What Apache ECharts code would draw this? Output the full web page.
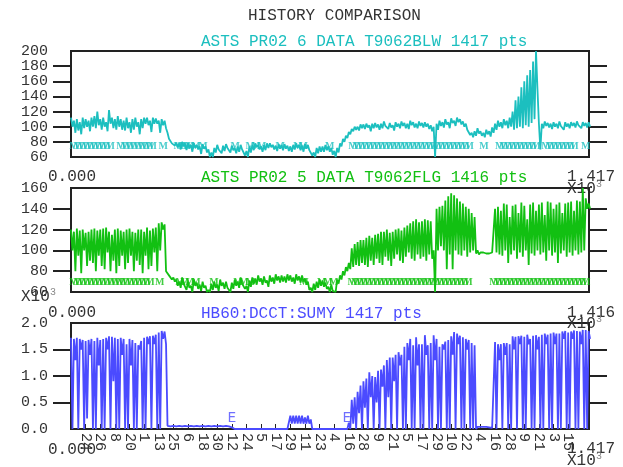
<!DOCTYPE html>
<html>
<head>
<meta charset="utf-8">
<script src="https://cdn.jsdelivr.net/npm/echarts@6.0.0/dist/echarts.min.js"></script>
<style>
  html, body { margin: 0; padding: 0; background: #fff; }
  #chart { width: 623px; height: 467px; }
</style>
</head>
<body>
<div id="chart"></div>
<script>
    // the 1417-point history, read as high/low pairs for every 8 points
    var sampleStep = 8;
    var totalPts = 1417;

    // ASTS PR02 6 DATA T9062BLW
    var blwHigh = [
        112, 108, 110, 106, 112, 110, 108, 112, 114, 120,
        110, 112, 106, 122, 112, 110, 114, 110, 108, 112,
        106, 110, 112, 106, 110, 112, 112, 108, 112, 111,
        108, 110, 108, 92, 82, 80, 79, 78, 80, 78,
        78, 76, 78, 76, 74, 77, 74, 70, 66, 72,
        76, 72, 75, 77, 74, 75, 72, 74, 76, 70,
        68, 74, 76, 78, 76, 74, 76, 78, 78, 76,
        75, 77, 76, 77, 75, 74, 76, 78, 76, 75,
        77, 76, 70, 66, 72, 74, 74, 76, 74, 72,
        68, 72, 78, 84, 88, 93, 97, 100, 100, 103,
        103, 104, 102, 104, 105, 103, 104, 107, 103, 105,
        102, 106, 104, 107, 105, 104, 108, 106, 104, 107,
        105, 106, 104, 102, 100, 104, 108, 106, 110, 106,
        111, 108, 112, 110, 107, 104, 96, 92, 94, 98,
        94, 92, 96, 94, 99, 104, 108, 106, 110, 108,
        112, 120, 135, 140, 152, 160, 168, 175, 186, 200,
        104, 104, 107, 105, 104, 106, 104, 107, 103, 106,
        104, 106, 105, 107, 104, 106, 105, 106
    ];
    var blwLow = [
        100, 92, 95, 90, 98, 100, 94, 100, 98, 102,
        96, 100, 94, 104, 98, 96, 100, 96, 95, 98,
        92, 96, 100, 90, 98, 104, 102, 93, 104, 104,
        92, 102, 98, 84, 78, 75, 73, 70, 74, 69,
        72, 67, 72, 70, 64, 71, 66, 60, 60, 66,
        70, 65, 68, 72, 66, 69, 65, 67, 70, 62,
        60, 66, 69, 73, 70, 67, 69, 72, 73, 70,
        68, 71, 69, 71, 68, 67, 70, 72, 69, 67,
        71, 69, 62, 60, 65, 67, 67, 69, 67, 63,
        60, 66, 74, 80, 85, 90, 94, 96, 95, 98,
        97, 99, 94, 98, 99, 96, 98, 101, 97, 99,
        95, 100, 98, 101, 98, 97, 102, 99, 98, 101,
        99, 100, 97, 94, 60, 96, 101, 99, 103, 98,
        105, 101, 106, 103, 100, 96, 89, 86, 88, 91,
        88, 86, 90, 87, 92, 96, 100, 98, 102, 98,
        100, 96, 98, 100, 98, 102, 100, 105, 110, 150,
        70, 98, 101, 99, 97, 100, 98, 101, 96, 100,
        98, 101, 99, 102, 98, 101, 99, 100
    ];

    // ASTS PR02 5 DATA T9062FLG
    var flgHigh = [
        120, 118, 121, 119, 120, 117, 118, 120, 121, 119,
        120, 121, 122, 118, 115, 120, 121, 119, 118, 120,
        121, 118, 117, 120, 120, 118, 122, 119, 121, 122,
        126, 127, 125, 80, 76, 74, 72, 70, 74, 68,
        70, 66, 72, 69, 67, 70, 66, 62, 68, 70,
        67, 72, 69, 70, 65, 69, 72, 70, 74, 69,
        66, 71, 74, 73, 76, 73, 75, 71, 76, 74,
        77, 75, 76, 75, 77, 76, 74, 77, 75, 76,
        73, 70, 64, 68, 70, 72, 71, 69, 65, 67,
        62, 72, 76, 80, 84, 88, 102, 106, 108, 110,
        110, 112, 114, 112, 115, 116, 118, 118, 120, 117,
        118, 120, 121, 119, 122, 124, 126, 128, 130, 127,
        128, 130, 129, 128, 100, 140, 142, 143, 148, 152,
        155, 153, 150, 147, 145, 142, 140, 136, 132, 100,
        98, 98, 97, 97, 98, 140, 142, 138, 145, 144,
        132, 143, 144, 136, 146, 143, 130, 144, 146, 138,
        144, 146, 134, 147, 146, 140, 144, 146, 136, 145,
        146, 147, 138, 148, 147, 160, 150, 145
    ];
    var flgLow = [
        100, 80, 95, 78, 100, 85, 90, 88, 80, 95,
        85, 82, 98, 80, 90, 78, 85, 95, 82, 88,
        95, 80, 90, 86, 78, 95, 82, 85, 98, 80,
        100, 120, 80, 76, 72, 70, 66, 64, 68, 62,
        64, 60, 66, 63, 61, 64, 60, 60, 62, 64,
        61, 66, 63, 64, 60, 63, 66, 64, 68, 63,
        60, 65, 68, 67, 70, 67, 69, 65, 70, 68,
        71, 69, 70, 69, 71, 70, 68, 71, 69, 70,
        67, 62, 60, 62, 64, 66, 65, 63, 60, 61,
        60, 68, 72, 76, 80, 82, 84, 86, 85, 88,
        86, 84, 90, 86, 92, 88, 86, 94, 90, 85,
        92, 96, 90, 88, 94, 98, 92, 90, 96, 92,
        94, 90, 96, 92, 60, 100, 104, 100, 82, 96,
        82, 100, 96, 95, 100, 94, 98, 100, 97, 96,
        97, 97, 96, 96, 97, 98, 96, 95, 100, 88,
        96, 100, 92, 98, 94, 100, 86, 97, 95, 100,
        96, 98, 90, 100, 95, 98, 88, 97, 100, 94,
        98, 95, 100, 96, 98, 100, 140, 140
    ];

    // HB60:DCCT:SUMY (x10^3)
    var sumyHigh = [
        1.72, 1.70, 1.72, 1.70, 1.68, 1.66, 1.68, 1.70, 1.66, 1.72,
        1.68, 1.70, 1.72, 1.75, 1.74, 1.72, 1.70, 1.72, 1.70, 1.60,
        1.70, 1.68, 1.62, 1.58, 1.66, 1.72, 1.74, 1.75, 1.76, 1.78,
        1.82, 1.85, 1.84, 0.06, 0.05, 0.06, 0.05, 0.06, 0.05, 0.06,
        0.05, 0.06, 0.05, 0.06, 0.05, 0.06, 0.05, 0.06, 0.05, 0.06,
        0.05, 0.06, 0.05, 0.06, 0.05, 0.03, 0, 0, 0, 0,
        0, 0, 0, 0, 0, 0, 0, 0, 0, 0,
        0, 0, 0, 0, 0, 0.25, 0.25, 0.25, 0.25, 0.25,
        0.22, 0.25, 0.18, 0, 0, 0, 0, 0, 0, 0,
        0, 0, 0, 0, 0, 0.12, 0.55, 0.60, 0.70, 0.82,
        0.90, 0.95, 1.07, 1.00, 0.98, 1.10, 1.12, 1.20, 1.30, 1.35,
        1.35, 1.40, 1.45, 1.40, 1.55, 1.62, 1.70, 1.58, 1.73, 1.60,
        1.60, 1.77, 1.58, 1.62, 1.77, 1.70, 1.55, 1.60, 1.65, 1.68,
        1.75, 1.83, 1.80, 1.76, 1.73, 1.70, 1.68, 1.62, 1.58, 0.04,
        0.04, 0.04, 0.04, 0.03, 0.02, 1.64, 1.60, 1.60, 1.62, 1.62,
        1.60, 1.75, 1.74, 1.75, 1.76, 1.74, 1.78, 1.70, 1.76, 1.77,
        1.74, 1.78, 1.80, 1.78, 1.80, 1.82, 1.80, 1.80, 1.84, 1.85,
        1.82, 1.84, 1.86, 1.85, 1.84, 1.87, 1.87, 1.85
    ];
    var sumyLow = [
        0, 1.3, 0, 1.5, 0, 0.2, 1.4, 0, 0, 1.2,
        0, 0, 1.5, 0, 0.9, 0, 0, 1.4, 0, 0,
        1.2, 0, 0, 1.5, 0, 0, 1.6, 0, 1.6, 0,
        0, 1.7, 1.6, 0.04, 0.04, 0.05, 0.04, 0.05, 0.04, 0.05,
        0.04, 0.05, 0.04, 0.05, 0.04, 0.05, 0.04, 0.05, 0.04, 0.05,
        0.04, 0.05, 0.04, 0.05, 0.04, 0.02, 0, 0, 0, 0,
        0, 0, 0, 0, 0, 0, 0, 0, 0, 0,
        0, 0, 0, 0, 0, 0.1, 0.1, 0.1, 0.1, 0.1,
        0.1, 0.1, 0, 0, 0, 0, 0, 0, 0, 0,
        0, 0, 0, 0, 0, 0, 0.1, 0, 0.3, 0,
        0.4, 0, 0.6, 0, 0.5, 0, 0.8, 0, 0.6, 0,
        0.9, 0, 1.2, 0, 0, 1.3, 0, 0, 1.2, 0,
        0, 1.4, 0, 0, 1.3, 0, 0, 1.5, 0, 0,
        1.4, 0, 1.6, 0, 0, 1.5, 0, 0, 0, 0.03,
        0.03, 0.03, 0.03, 0.02, 0, 0, 1.3, 0, 1.4, 0,
        0, 1.5, 0, 1.6, 0, 0, 1.6, 0, 0, 1.5,
        0, 0, 1.6, 0, 0, 1.6, 0, 0, 1.7, 0,
        0, 1.7, 0, 0, 1.6, 0, 0, 1.7
    ];

    // "M" flag positions (point index) and the row they sit on
    var blwFlags = [8, 19, 30, 41, 52, 63, 74, 85, 96, 107,
        137, 148, 159, 170, 181, 192, 202, 213, 222, 252,
        293, 304, 315, 325, 342, 361, 449, 490, 506, 522, 572, 621, 635, 708,
        771, 782, 793, 804, 815, 826, 837, 848, 859, 870, 880, 891, 902, 913, 924,
        935, 946, 957, 968, 979, 990, 1001, 1012, 1023, 1034, 1045, 1056, 1067, 1078, 1089,
        1130, 1173, 1184, 1195, 1206, 1217, 1228, 1239, 1250, 1261, 1272,
        1299, 1310, 1321, 1332, 1343, 1354, 1365, 1376, 1408];
    var blwFlagRow = 74.5;
    var flgFlags = [8, 19, 30, 41, 52, 63, 74, 85, 96, 107, 118, 129, 139, 150, 161,
        172, 183, 194, 205, 216, 243, 298, 312, 325, 342, 391, 457, 473, 490,
        637, 686, 703, 719,
        769, 779, 790, 801, 812, 823, 834, 845, 856, 867, 878, 889, 900, 911, 922,
        933, 944, 955, 965, 976, 987, 998, 1009, 1020, 1031, 1042, 1053, 1064, 1075, 1086,
        1157, 1168, 1179, 1190, 1201, 1212, 1223, 1233, 1244, 1255, 1266, 1277, 1288,
        1299, 1310, 1321, 1332, 1343, 1354, 1365, 1376, 1387, 1398, 1408];
    var flgFlagRow = 69.5;
    var sumyFlags = [[440, 0.2], [755, 0.2]];

    // bottom axis: day-of-month tick labels, one every 40 points
    var tickStep = 40;
    var dateLabels = ['22', '24', '26', '8', '20', '1', '13', '25', '6', '18', '30', '12',
        '24', '5', '17', '29', '11', '23', '4', '16', '28', '9', '21', '5',
        '17', '29', '10', '22', '4', '16', '28', '9', '21', '3', '15', '27'];

    var cyan = '#1cbfbf', green = '#12c012', blue = '#4b4bff', ink = '#333';
    var mono = '"Liberation Mono", "DejaVu Sans Mono", monospace';
    var serif = '"Liberation Serif", "DejaVu Serif", serif';

    // high at the start of each 8-point block, low half way through it
    function toPoints(high, low) {
        var pts = [];
        high.forEach(function (v, i) {
            pts.push([i * sampleStep, v]);
            pts.push([i * sampleStep + sampleStep / 2, low[i]]);
        });
        return pts;
    }
    var tickPos = dateLabels.map(function (d, i) { return i * tickStep; });

    var grids = [
        {left: 71, top: 51, width: 518, height: 106},
        {left: 71, top: 188, width: 518, height: 104},
        {left: 71, top: 323, width: 518, height: 106}
    ].map(function (g) {
        g.show = true;
        g.borderColor = '#222';
        g.borderWidth = 2;
        g.backgroundColor = 'transparent';
        g.containLabel = false;
        g.outerBoundsMode = 'none';
        return g;
    });

    function xAx(i, withLabels) {
        return {
            type: 'value', gridIndex: i, min: 0, max: totalPts,
            axisLine: {show: true, lineStyle: {color: '#222', width: 2}},
            splitLine: {show: false},
            axisTick: withLabels ? {show: true, inside: true, length: 5, customValues: tickPos,
                lineStyle: {color: '#222', width: 1}} : {show: false},
            axisLabel: withLabels ? {
                show: true, rotate: -90, margin: 4, customValues: tickPos,
                color: ink, fontFamily: mono, fontSize: 15,
                formatter: function (v) { return dateLabels[Math.round(v / tickStep)]; }
            } : {show: false}
        };
    }

    function yAx(i, pos, min, max, step, ticks, digits) {
        return {
            type: 'value', gridIndex: i, position: pos, min: min, max: max, interval: step,
            axisLine: {show: true, lineStyle: {color: '#222', width: 2}},
            splitLine: {show: false},
            axisTick: {show: true, inside: false, length: 18, customValues: ticks,
                lineStyle: {color: '#222', width: 2}},
            axisLabel: {
                show: pos === 'left', margin: 23, color: ink, fontFamily: mono, fontSize: 15,
                formatter: function (v) { return v.toFixed(digits); }
            }
        };
    }

    function lineSeries(xi, yi, pts, color) {
        return {type: 'line', xAxisIndex: xi, yAxisIndex: yi, data: pts,
            showSymbol: false, silent: true, lineStyle: {color: color, width: 1.8}};
    }

    function flagSeries(xi, yi, pts, txt, color, font, size, weight) {
        return {
            type: 'scatter', xAxisIndex: xi, yAxisIndex: yi,
            symbol: 'circle', symbolSize: 1, silent: true,
            itemStyle: {color: 'rgba(0,0,0,0)'},
            label: {show: true, position: 'inside', formatter: txt, color: color,
                fontFamily: font, fontSize: size, fontWeight: weight || 'normal'},
            data: pts
        };
    }

    function txt(s, x, y, size, color) {
        return {type: 'text', x: x, y: y, silent: true,
            style: {text: s, fill: color || ink, font: size + 'px ' + mono,
                textAlign: 'left', textVerticalAlign: 'middle'}};
    }
    function sup(x, y) {
        return txt('3', x, y, 10, '#888');
    }
    function titleStyle(color) {
        return {color: color, fontFamily: mono, fontSize: 16, fontWeight: 'normal'};
    }

    var option = {
        animation: false,
        backgroundColor: '#fff',
        title: [
            {text: 'HISTORY COMPARISON', left: 243, top: 3, textStyle: titleStyle(ink)},
            {text: 'ASTS PR02 6 DATA T9062BLW 1417 pts', left: 196, top: 29, textStyle: titleStyle(cyan)},
            {text: 'ASTS PR02 5 DATA T9062FLG 1416 pts', left: 196, top: 165, textStyle: titleStyle(green)},
            {text: 'HB60:DCCT:SUMY 1417 pts', left: 196, top: 301, textStyle: titleStyle(blue)}
        ],
        grid: grids,
        xAxis: [xAx(0, false), xAx(1, false), xAx(2, true)],
        yAxis: [
            yAx(0, 'left', 60, 200, 20, [80, 100, 120, 140, 160, 180], 0),
            yAx(0, 'right', 60, 200, 20, [80, 100, 120, 140, 160, 180], 0),
            yAx(1, 'left', 60, 160, 20, [80, 100, 120, 140], 0),
            yAx(1, 'right', 60, 160, 20, [80, 100, 120, 140], 0),
            yAx(2, 'left', 0, 2, 0.5, [0.5, 1.0, 1.5], 1),
            yAx(2, 'right', 0, 2, 0.5, [0.5, 1.0, 1.5], 1)
        ],
        graphic: [
            txt('0.000', 48, 177, 16),
            txt('1.417', 567, 177, 16),
            txt('X10', 567, 189, 16), sup(596, 184),
            txt('X10', 21, 297, 16), sup(50, 292),
            txt('0.000', 48, 313, 16),
            txt('1.416', 567, 313, 16),
            txt('X10', 567, 324, 16), sup(596, 319),
            txt('0.000', 48, 450, 16),
            txt('1.417', 567, 449, 16),
            txt('X10', 567, 461, 16), sup(596, 456)
        ],
        series: [
            lineSeries(0, 0, toPoints(blwHigh, blwLow), cyan),
            flagSeries(0, 0, blwFlags.map(function (x) { return [x, blwFlagRow]; }),
                'M', cyan, serif, 10, 'bold'),
            lineSeries(1, 2, toPoints(flgHigh, flgLow), green),
            flagSeries(1, 2, flgFlags.map(function (x) { return [x, flgFlagRow]; }),
                'M', green, serif, 10, 'bold'),
            lineSeries(2, 4, toPoints(sumyHigh, sumyLow), blue),
            flagSeries(2, 4, sumyFlags, 'E', blue, mono, 14)
        ]
    };

    var chart = echarts.init(document.getElementById('chart'));
    chart.setOption(option);
</script>
</body>
</html>
